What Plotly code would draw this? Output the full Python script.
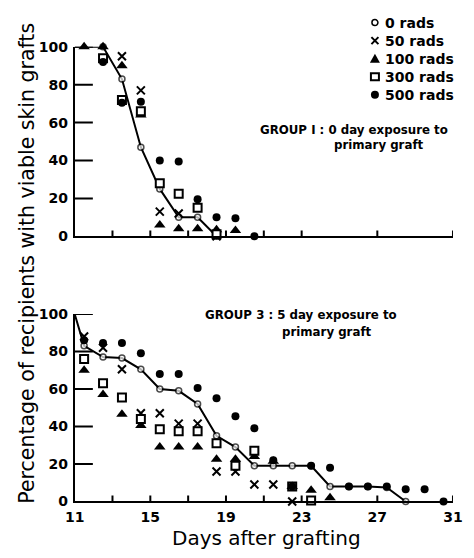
import plotly.graph_objects as go

# ---- data -----------------------------------------------------------------
# Group 1: 0 day exposure to primary graft
g1_days = [11.5, 12.5, 13.5, 14.5, 15.5, 16.5, 17.5, 18.5, 19.5, 20.5]
g1_line_days = [11, 12.5, 13.5, 14.5, 15.5, 16.5, 17.5, 18.5]
g1_0rads = [100, 100, 83, 47, 25, 10, 10, 0]
g1_50rads = [None, None, 95, 77, 13, 12, None, 0, None, None]
g1_100rads = [100, 100, 90, 64, 6, 4, 4, 3.5, 3, None]
g1_300rads = [None, 94, 72, 66, 28, 22.5, 15, 1, None, None]
g1_500rads = [None, 92, 70.5, 71, 40, 39.5, 19.5, 10, 9.5, 0]

# Group 3: 5 day exposure to primary graft
g3_days = [11.5, 12.5, 13.5, 14.5, 15.5, 16.5, 17.5, 18.5, 19.5, 20.5,
           21.5, 22.5, 23.5, 24.5, 25.5, 26.5, 27.5, 28.5, 29.5, 30.5]
g3_line_days = [11, 11.5, 12.5, 13.5, 14.5, 15.5, 16.5, 17.5, 18.5, 19.5,
                20.5, 21.5, 22.5, 23.5, 24.5, 25.5, 26.5, 27.5, 28.5]
g3_0rads = [100, 83, 77, 76.5, 70.5, 60, 59, 52, 35, 29,
            19, 19, 19, 19, 8, 8, 8, 7.5, 0]
g3_50rads = [88, 82, 70.5, 47, 47, 41.5, 41.5, 16, 16, 9,
             9, 0, None, None, None, None, None, None, None, None]
g3_100rads = [70, 57, 46.5, 40.5, 29, 29, 29, 22.5, 22.5, 24,
              21.5, 8, 6, 2, None, None, None, None, None, None]
g3_300rads = [76, 63, 55.5, 44, 38.5, 37.5, 37.5, 31, 19, 27,
              None, 8, 0.5, None, None, None, None, None, None, None]
g3_500rads = [86, 84.5, 84.5, 79, 68, 68, 60.5, 55, 45.5, 39,
              22, 8, 19, 18, 8, 8, 8, 6.5, 6.5, 0]

x_tick_vals = [11, 13, 15, 17, 19, 21, 23, 27, 31]
x_tick_text = ["11", "", "15", "", "19", "", "23", "27", "31"]
y_tick_vals = [0, 20, 40, 60, 80, 100]

legend_labels = ["0 rads", "50 rads", "100 rads", "300 rads", "500 rads"]

# ---- styling ----------------------------------------------------------------
W, H = 474, 558
FONT = "DejaVu Sans"
INK = "black"
X_RANGE = [11, 31]
Y_RANGE = [0, 100]

x_px = [67.5, 462.5]          # horizontal extent of both panels, px
y1_px = [235, 40]             # top panel: bottom, top (px from top)
y2_px = [508, 315]            # bottom panel
x_dom = [x_px[0] / W, x_px[1] / W]
y1_dom = [1 - y1_px[0] / H, 1 - y1_px[1] / H]
y2_dom = [1 - y2_px[0] / H, 1 - y2_px[1] / H]

Y_TICK_LEN, X_TICK_LEN = 19, 6   # inward tick lengths, px

styles = {
    "0 rads": dict(symbol="circle", size=6, color="white",
                   line=dict(color=INK, width=1.5)),
    "50 rads": dict(symbol="x-thin", size=8, color=INK,
                    line=dict(color=INK, width=2)),
    "100 rads": dict(symbol="triangle-up", size=10, color=INK,
                     line=dict(width=0)),
    "300 rads": dict(symbol="square", size=8, color="white",
                     line=dict(color=INK, width=2)),
    "500 rads": dict(symbol="circle", size=8, color=INK,
                     line=dict(width=0)),
}

fig = go.Figure()


def add_ticks(xa, ya, ypx):
    """Inward tick marks drawn as line segments in axis units."""
    days_per_px = (X_RANGE[1] - X_RANGE[0]) / (x_px[1] - x_px[0])
    pct_per_px = (Y_RANGE[1] - Y_RANGE[0]) / (ypx[0] - ypx[1])
    tx, ty = [], []
    for v in y_tick_vals[1:]:
        tx += [X_RANGE[0], X_RANGE[0] + Y_TICK_LEN * days_per_px, None]
        ty += [v, v, None]
    for v in x_tick_vals[1:]:
        tx += [v, v, None]
        ty += [Y_RANGE[0], Y_RANGE[0] + X_TICK_LEN * pct_per_px, None]
    fig.add_trace(go.Scatter(
        x=tx, y=ty, mode="lines", line=dict(color=INK, width=2),
        xaxis=xa, yaxis=ya, cliponaxis=False, showlegend=False,
        hoverinfo="skip"))


def add_panel(xa, ya, line_days, line_vals, days, series):
    sizes = [0] + [styles["0 rads"]["size"]] * (len(line_days) - 1)
    m0 = dict(styles["0 rads"])
    m0["size"] = sizes
    fig.add_trace(go.Scatter(
        x=line_days, y=line_vals, mode="lines+markers",
        line=dict(color=INK, width=2), marker=m0,
        xaxis=xa, yaxis=ya, cliponaxis=False, showlegend=False))
    for name, vals in series:
        fig.add_trace(go.Scatter(
            x=days, y=vals, mode="markers", marker=styles[name],
            xaxis=xa, yaxis=ya, cliponaxis=False, showlegend=False))


add_ticks("x", "y", y1_px)
add_ticks("x2", "y2", y2_px)
add_panel("x", "y", g1_line_days, g1_0rads, g1_days,
          [("50 rads", g1_50rads), ("100 rads", g1_100rads),
           ("300 rads", g1_300rads), ("500 rads", g1_500rads)])
add_panel("x2", "y2", g3_line_days, g3_0rads, g3_days,
          [("50 rads", g3_50rads), ("100 rads", g3_100rads),
           ("300 rads", g3_300rads), ("500 rads", g3_500rads)])

axis_common = dict(showline=True, linecolor=INK, linewidth=1.8,
                   showgrid=False, zeroline=False, mirror=False, ticks="",
                   tickfont=dict(family=FONT, size=14, color=INK,
                                 weight="bold"))

fig.update_layout(
    width=W, height=H,
    margin=dict(l=0, r=0, t=0, b=0),
    paper_bgcolor="white", plot_bgcolor="rgba(0,0,0,0)",
    showlegend=False,
    xaxis=dict(domain=x_dom, range=X_RANGE, anchor="y",
               tickvals=x_tick_vals, ticktext=[""] * len(x_tick_vals),
               **axis_common),
    yaxis=dict(domain=y1_dom, range=Y_RANGE, anchor="x",
               tickvals=y_tick_vals, ticklabelstandoff=2, **axis_common),
    xaxis2=dict(domain=x_dom, range=X_RANGE, anchor="y2",
                tickvals=x_tick_vals, ticktext=x_tick_text,
                ticklabelstandoff=2, **axis_common),
    yaxis2=dict(domain=y2_dom, range=Y_RANGE, anchor="x2",
                tickvals=y_tick_vals, ticklabelstandoff=2, **axis_common),
)

# legend keys as pixel-sized shapes anchored in paper space
shapes = []
leg_x, leg_y0, leg_dy = 381, 15, 18.6
key_paths = {
    "50 rads": "M-3.5,-3.5 L3.5,3.5 M-3.5,3.5 L3.5,-3.5",
    "100 rads": "M-5,-4 L5,-4 L0,5 Z",
}
for i, name in enumerate(legend_labels):
    px, py = leg_x / W, 1 - (leg_y0 + i * leg_dy) / H
    base = dict(xref="paper", yref="paper", xsizemode="pixel",
                ysizemode="pixel", xanchor=px, yanchor=py)
    if name == "0 rads":
        shapes.append(dict(type="circle", x0=-3, x1=3, y0=-3, y1=3,
                           line=dict(color=INK, width=1.5),
                           fillcolor="white", **base))
    elif name == "500 rads":
        shapes.append(dict(type="circle", x0=-4, x1=4, y0=-4, y1=4,
                           line=dict(width=0), fillcolor=INK, **base))
    elif name == "300 rads":
        shapes.append(dict(type="rect", x0=-4, x1=4, y0=-3.5, y1=3.5,
                           line=dict(color=INK, width=2),
                           fillcolor="white", **base))
    elif name == "100 rads":
        shapes.append(dict(type="path", path=key_paths[name],
                           line=dict(width=0), fillcolor=INK, **base))
    else:
        shapes.append(dict(type="path", path=key_paths[name],
                           line=dict(color=INK, width=2), **base))
fig.update_layout(shapes=shapes)

annotations = []
for i, name in enumerate(legend_labels):
    annotations.append(dict(
        x=389 / W, y=1 - (leg_y0 + i * leg_dy) / H, xref="paper",
        yref="paper", text=name, showarrow=False, xanchor="left",
        yanchor="middle",
        font=dict(family=FONT, size=14, color=INK, weight="bold")))

group_font = dict(family=FONT, size=11.8, color=INK, weight="bold")
group_text = [
    dict(x=259 / W, y=1 - 126 / H, text="GROUP I : 0 day exposure to"),
    dict(x=336 / W, y=1 - 141 / H, text="primary graft"),
    dict(x=202 / W, y=1 - 316 / H, text="GROUP 3 : 5 day exposure to"),
    dict(x=282 / W, y=1 - 334 / H, text="primary graft"),
]
for a in group_text:
    a.update(xref="paper", yref="paper", showarrow=False, xanchor="left",
             yanchor="middle", font=group_font)
annotations += group_text

annotations += [
    dict(x=18 / W, y=1 - 263 / H, xref="paper", yref="paper",
         text="Percentage of recipients with viable skin grafts",
         textangle=-90, showarrow=False, xanchor="center", yanchor="middle",
         font=dict(family=FONT, size=20.5, color=INK)),
    dict(x=268 / W, y=1 - 546 / H, xref="paper", yref="paper",
         text="Days after grafting", showarrow=False, xanchor="center",
         yanchor="middle", font=dict(family=FONT, size=20, color=INK)),
]
fig.update_layout(annotations=annotations)

fig.write_html("out.html")
